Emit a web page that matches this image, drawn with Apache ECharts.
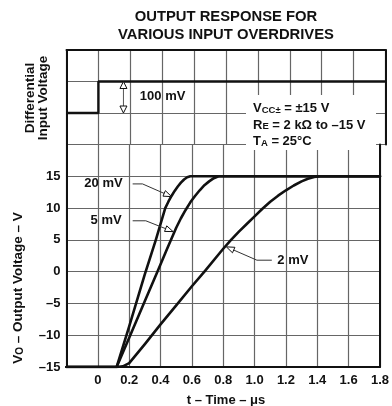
<!DOCTYPE html>
<html>
<head>
<meta charset="utf-8">
<script src="https://cdn.jsdelivr.net/npm/echarts@6/dist/echarts.min.js"></script>
<style>
  html, body { margin: 0; padding: 0; background: #fff; }
  #chart { width: 392px; height: 406px; }
</style>
</head>
<body>
<div id="chart"></div>
<script>
// Time axis (µs) and ticks
const timeTicks = [-0.2, 0, 0.2, 0.4, 0.6, 0.8, 1.0, 1.2, 1.4, 1.6, 1.8];
const voTicks = [-15, -10, -5, 0, 5, 10, 15];

// Differential input step (mV)
const inputT = [-0.2, 0, 0, 1.8];
const inputMv = [0, 0, 100, 100];

// Output response, 20 mV overdrive
const t20 = [-0.2, 0.12, 0.2, 0.3, 0.37, 0.43, 0.45, 0.47, 0.49, 0.51, 0.53, 0.55, 0.57, 0.59, 1.8];
const v20 = [-15, -15, -8.6, -0.4, 5, 10, 11, 11.9, 12.7, 13.4, 14.0, 14.5, 14.85, 15, 15];

// Output response, 5 mV overdrive
const t5 = [-0.2, 0.12, 0.2, 0.3, 0.38, 0.44, 0.5, 0.53, 0.56, 0.59, 0.62, 0.65, 0.68, 0.71, 0.74, 0.77, 1.8];
const v5 = [-15, -15, -10.4, -4.6, 0, 3.5, 6.9, 8.4, 9.7, 10.9, 11.9, 12.8, 13.6, 14.2, 14.7, 15, 15];

// Output response, 2 mV overdrive
const t2 = [-0.2, 0.12, 0.16, 0.2, 0.3, 0.4, 0.5, 0.6, 0.68, 0.8, 0.85, 0.9, 0.95, 1.0, 1.05, 1.1, 1.15, 1.2, 1.25, 1.3, 1.34, 1.38, 1.42, 1.8];
const v2 = [-15, -15, -14.9, -14.4, -11.4, -8.3, -5.3, -2.3, 0, 3.6, 5.0, 6.3, 7.5, 8.7, 9.9, 11, 11.95, 12.8, 13.55, 14.2, 14.6, 14.9, 15, 15];

const zip = (xs, ys) => xs.map((x, i) => [x, ys[i]]);

const INK = '#111';
const GRIDC = '#666';
const FONT = '"Liberation Sans", Arial, Helvetica, sans-serif';

const chart = echarts.init(document.getElementById('chart'), null, { renderer: 'canvas' });

const gridBox = [
  { left: 66.5, top: 50, width: 319, height: 94.5 },
  { left: 66.5, top: 144.5, width: 319, height: 222.5 }
];

const borderLine = { show: true, onZero: false, lineStyle: { color: INK, width: 2 } };

const xCommon = {
  type: 'value', min: timeTicks[0], max: timeTicks[timeTicks.length - 1], interval: 0.2,
  axisTick: { show: false },
  splitLine: { show: true, lineStyle: { color: GRIDC, width: 1.2 } },
  axisLine: borderLine
};

const lineSeries = (name, data) => ({
  name, type: 'line', xAxisIndex: 1, yAxisIndex: 1, data,
  showSymbol: false, smooth: false,
  lineStyle: { color: INK, width: 2.6, join: 'round', cap: 'round' }, z: 3
});

chart.setOption({
  animation: false,
  backgroundColor: '#fff',
  grid: gridBox,
  xAxis: [
    Object.assign({}, xCommon, { gridIndex: 0, position: 'top', axisLabel: { show: false } }),
    Object.assign({}, xCommon, {
      gridIndex: 1, position: 'bottom',
      axisLabel: {
        show: true, margin: 7, color: INK, fontFamily: FONT, fontWeight: 'bold', fontSize: 13,
        showMaxLabel: true,
        formatter: v => {
          const r = Math.round(v * 10) / 10;
          if (r < 0) return '';
          return r === 0 ? '0' : r.toFixed(1);
        }
      }
    })
  ],
  yAxis: [
    {
      type: 'value', gridIndex: 0, min: -100, max: 200, interval: 100,
      axisTick: { show: false }, axisLabel: { show: false },
      splitLine: { show: true, lineStyle: { color: GRIDC, width: 1.2 } },
      axisLine: borderLine
    },
    {
      type: 'value', gridIndex: 1, min: voTicks[0], max: 20, interval: 5,
      axisTick: { show: false },
      axisLabel: {
        margin: 6, color: INK, fontFamily: FONT, fontWeight: 'bold', fontSize: 13,
        formatter: v => v > voTicks[voTicks.length - 1] ? '' : (v < 0 ? '–' + Math.abs(v) : String(v))
      },
      splitLine: { show: true, lineStyle: { color: GRIDC, width: 1.2 } },
      axisLine: borderLine
    },
    {
      type: 'value', gridIndex: 0, position: 'right', min: -100, max: 200,
      axisTick: { show: false }, axisLabel: { show: false }, splitLine: { show: false },
      axisLine: borderLine
    },
    {
      type: 'value', gridIndex: 1, position: 'right', min: -15, max: 20,
      axisTick: { show: false }, axisLabel: { show: false }, splitLine: { show: false },
      axisLine: borderLine
    }
  ],
  series: [
    {
      name: 'Input', type: 'line', xAxisIndex: 0, yAxisIndex: 0,
      data: zip(inputT, inputMv), showSymbol: false,
      lineStyle: { color: INK, width: 2.4 }, z: 3
    },
    lineSeries('20 mV', zip(t20, v20)),
    lineSeries('5 mV', zip(t5, v5)),
    lineSeries('2 mV', zip(t2, v2))
  ]
});

// ---- annotations (placed in data space, converted to pixels) ----
const px = (g, p) => chart.convertToPixel({ gridIndex: g }, p);
const els = [];
const bold = (size) => 'bold ' + size + 'px ' + FONT;

function txt(x, y, text, size, align, vAlign, extra) {
  els.push(Object.assign({
    type: 'text', z: 10,
    style: {
      x, y, text, font: bold(size), fill: INK,
      align: align, textAlign: align, verticalAlign: vAlign, textVerticalAlign: vAlign
    }
  }, extra || {}));
}

function openHead(tip, from, L, W) {
  const dx = tip[0] - from[0], dy = tip[1] - from[1];
  const len = Math.hypot(dx, dy) || 1;
  const ux = dx / len, uy = dy / len;
  const bx = tip[0] - ux * L, by = tip[1] - uy * L;
  const nx = -uy * W / 2, ny = ux * W / 2;
  els.push({
    type: 'polygon', z: 9,
    shape: { points: [tip, [bx + nx, by + ny], [bx - nx, by - ny]] },
    style: { fill: '#fff', stroke: INK, lineWidth: 1 }
  });
  return [bx, by];
}

function leader(label, textAt, start, elbow, tip) {
  const pT = px(1, textAt), p0 = px(1, start), p1 = px(1, elbow), p2 = px(1, tip);
  const base = openHead(p2, p1, 8, 6);
  els.push({
    type: 'polyline', z: 8,
    shape: { points: [p0, p1, base] },
    style: { stroke: '#333', lineWidth: 1, fill: null }
  });
  txt(pT[0], pT[1], label.text, 13, label.align, 'middle');
}

leader({ text: '20 mV', align: 'right' }, [0.158, 13.8], [0.222, 13.8], [0.285, 13.8], [0.47, 11.8]);
leader({ text: '5 mV', align: 'right' }, [0.152, 8.0], [0.222, 8.0], [0.306, 8.0], [0.48, 6.3]);
leader({ text: '2 mV', align: 'left' }, [1.145, 1.7], [1.11, 1.8], [1.015, 1.8], [0.82, 3.9]);

// 100 mV step height marker
(function () {
  const top = px(0, [0.157, 100]), bot = px(0, [0.157, 0]);
  const bTop = openHead(top, [top[0], top[1] + 20], 7, 7);
  const bBot = openHead(bot, [bot[0], bot[1] - 20], 7, 7);
  els.push({
    type: 'line', z: 8,
    shape: { x1: bTop[0], y1: bTop[1], x2: bBot[0], y2: bBot[1] },
    style: { stroke: '#555', lineWidth: 1 }
  });
  const p = px(0, [0.26, 52]);
  txt(p[0], p[1], '100 mV', 13, 'left', 'middle');
})();

// Test-condition box
els.push({
  type: 'rect', z: 1,
  shape: { x: 246, y: 95, width: 130, height: 55 },
  style: { fill: '#fff' }
});
const richCond = {
  b: { font: bold(13), fill: INK, lineHeight: 16, verticalAlign: 'bottom' },
  s: { font: bold(9.5), fill: INK, lineHeight: 8.5, verticalAlign: 'bottom' }
};
[['{b|V}{s|CC±}{b| = ±15 V}', 107], ['{b|R}{s|E}{b| = 2 kΩ to –15 V}', 123.5], ['{b|T}{s|A}{b| = 25°C}', 140]]
  .forEach(([t, y]) => {
    els.push({
      type: 'text', z: 10,
      style: {
        x: 253, y, text: t, rich: richCond, font: bold(13), fill: INK,
        align: 'left', textAlign: 'left', verticalAlign: 'middle', textVerticalAlign: 'middle'
      }
    });
  });

// Title
txt(226, 17, 'OUTPUT RESPONSE FOR', 14.8, 'center', 'middle');
txt(226, 35, 'VARIOUS INPUT OVERDRIVES', 14.8, 'center', 'middle');

// Axis titles
txt(226, 400, 't – Time – μs', 13, 'center', 'middle');
els.push({
  type: 'text', z: 10, x: 37, y: 98, rotation: Math.PI / 2,
  style: {
    x: 0, y: 0, text: 'Differential\nInput Voltage', font: bold(13.5), fill: INK, lineHeight: 13,
    align: 'center', textAlign: 'center', verticalAlign: 'middle', textVerticalAlign: 'middle'
  }
});
els.push({
  type: 'text', z: 10, x: 17, y: 288, rotation: Math.PI / 2,
  style: {
    x: 0, y: 0, text: '{b|V}{s|O}{b| – Output Voltage – V}',
    rich: {
      b: { font: bold(13.5), fill: INK, lineHeight: 16, verticalAlign: 'bottom' },
      s: { font: bold(10), fill: INK, lineHeight: 9, verticalAlign: 'bottom' }
    },
    font: bold(13.5), fill: INK,
    align: 'center', textAlign: 'center', verticalAlign: 'middle', textVerticalAlign: 'middle'
  }
});

chart.setOption({ graphic: { elements: els } });
</script>
</body>
</html>
